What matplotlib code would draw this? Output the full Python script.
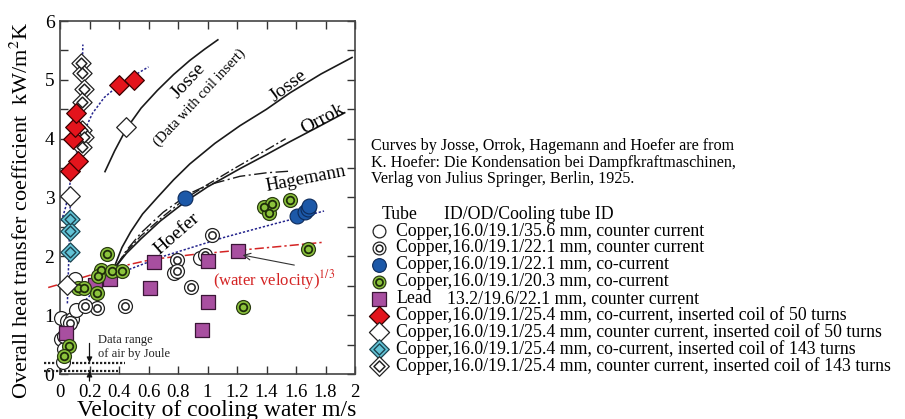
import numpy as np
import matplotlib
matplotlib.use("Agg")
import matplotlib.pyplot as plt

plt.rcParams['font.family'] = ['Liberation Serif', 'DejaVu Serif']
plt.rcParams['mathtext.fontset'] = 'stix'

# ---------------- data ----------------
# Copper 16.0/19.1/35.6 mm, counter current (open circle)
open_x = [0.01, 0.05, 0.08, 0.11, 0.01, 0.03, 0.02, 0.10, 0.77, 0.95]
open_y = [0.95, 0.90, 0.93, 1.08, 0.60, 0.42, 0.20, 1.62, 1.71, 1.98]
# Copper 16.0/19.1/22.1 mm, counter current (double circle)
dbl_x = [0.07, 0.03, 0.25, 0.44, 0.79, 0.79, 0.89, 0.98, 1.03, 0.17]
dbl_y = [0.87, 0.64, 1.12, 1.16, 1.93, 1.75, 1.48, 2.03, 2.36, 1.15]
# Copper 16.0/19.1/22.1 mm, co-current (blue)
blue_x = [0.85, 1.61, 1.66, 1.68, 1.69]
blue_y = [2.99, 2.69, 2.76, 2.80, 2.85]
# Copper 16.0/19.1/20.3 mm, co-current (green)
green_x = [0.32, 0.28, 0.35, 0.42, 0.26, 0.25, 0.12, 0.16, 0.06, 0.03,
           1.24, 1.68, 1.38, 1.42, 1.44, 1.56]
green_y = [2.04, 1.77, 1.75, 1.75, 1.66, 1.38, 1.47, 1.47, 0.47, 0.31,
           1.14, 2.12, 2.84, 2.74, 2.89, 2.95]
# Lead 13.2/19.6/22.1 mm, counter current
lead_x = [0.04, 0.24, 0.34, 0.61, 0.64, 0.96, 1.00, 1.00, 1.21]
lead_y = [0.70, 1.51, 1.61, 1.46, 1.90, 0.74, 1.23, 1.92, 2.09]
# coil of 50 turns, co-current (red diamond)
red_x = [0.07, 0.12, 0.09, 0.10, 0.11, 0.40, 0.50]
red_y = [3.45, 3.62, 4.00, 4.20, 4.43, 4.92, 5.00]
# coil of 50 turns, counter current (white diamond)
wd_x = [0.05, 0.07, 0.45]
wd_y = [1.52, 3.03, 4.20]
# coil of 143 turns, co-current (cyan diamond)
cy_x = [0.07, 0.07, 0.07]
cy_y = [2.63, 2.43, 2.07]
# coil of 143 turns, counter current (double diamond)
dd_x = [0.14, 0.15, 0.16, 0.15, 0.15, 0.16, 0.15]
dd_y = [5.28, 5.11, 4.85, 4.62, 4.14, 4.02, 3.85]

# literature curves
josse_coil_x = [0.305, 0.37, 0.45, 0.55, 0.66, 0.77, 0.88, 0.98, 1.07]
josse_coil_y = [3.44, 3.79, 4.17, 4.52, 4.82, 5.09, 5.33, 5.52, 5.68]
josse_x = [0.37, 0.42, 0.48, 0.56, 0.66, 0.77, 0.88, 1.05, 1.22, 1.40, 1.56, 1.77, 1.98]
josse_y = [1.83, 2.15, 2.42, 2.72, 3.00, 3.30, 3.57, 3.92, 4.22, 4.50, 4.78, 5.10, 5.38]
orrok_x = [0.38, 0.45, 0.55, 0.68, 0.85, 1.00, 1.22, 1.40, 1.56, 1.75, 1.93]
orrok_y = [1.83, 2.05, 2.30, 2.60, 2.93, 3.18, 3.49, 3.73, 3.95, 4.20, 4.44]
hoefer_x = [0.38, 0.45, 0.55, 0.70, 0.85, 1.00, 1.20, 1.38, 1.53]
hoefer_y = [1.83, 2.08, 2.35, 2.68, 2.98, 3.22, 3.52, 3.78, 4.00]
hagem_x = [0.38, 0.45, 0.55, 0.70, 0.88, 1.00, 1.22, 1.40, 1.57]
hagem_y = [1.83, 2.10, 2.40, 2.75, 3.07, 3.21, 3.36, 3.42, 3.45]

# blue dotted trend lines
fit_red_x = [0.01, 0.04, 0.07, 0.10, 0.15, 0.22, 0.30, 0.39, 0.50, 0.60]
fit_red_y = [2.60, 2.85, 3.27, 3.68, 4.05, 4.43, 4.70, 4.89, 5.07, 5.22]
fit_dd_x = [0.13, 0.14, 0.15, 0.155]
fit_dd_y = [3.75, 4.50, 5.10, 5.60]
fit_cy_x = [0.05, 0.06, 0.07]
fit_cy_y = [1.20, 2.00, 2.95]
fit_low_x = [0.08, 0.15, 0.25, 0.44, 0.70, 1.11, 1.45, 1.79]
fit_low_y = [1.00, 1.20, 1.45, 1.75, 2.00, 2.32, 2.55, 2.77]
# (water velocity)^(1/3)
wv_x = [-0.08, 0.10, 0.27, 0.45, 0.63, 0.90, 1.20, 1.50, 1.79]
wv_y = [1.47, 1.60, 1.73, 1.85, 1.95, 2.03, 2.10, 2.17, 2.24]

# air range by Joule
joule_hi = 0.19
joule_lo = 0.05

xticks = [0, 0.2, 0.4, 0.6, 0.8, 1.0, 1.2, 1.4, 1.6, 1.8, 2.0]
xtick_labels = ['0', '0.2', '0.4', '0.6', '0.8', '1', '1.2', '1.4', '1.6', '1.8', '2']
yticks = [0, 0.5, 1, 1.5, 2, 2.5, 3, 3.5, 4, 4.5, 5, 5.5, 6]
ytick_labels = ['0', '', '1', '', '2', '', '3', '', '4', '', '5', '', '6']

# ---------------- marker styles ----------------
C_BLUE = '#1c58a8'
C_GREEN = '#8cc43c'
C_PURPLE = '#a84fa0'
C_RED = '#e3141c'
C_CYAN = '#62c3d6'


def draw(ax, x, y, kind, scale=1.0, **kw):
    k = dict(zorder=5, clip_on=False, **kw)
    if kind == 'open':
        ax.scatter(x, y, s=100*scale, marker='o', facecolor='white', edgecolor='#222222', linewidth=0.9, **k)
    elif kind == 'dbl':
        ax.scatter(x, y, s=100*scale, marker='o', facecolor='white', edgecolor='#222222', linewidth=0.9, **k)
        ax.scatter(x, y, s=28*scale, marker='o', facecolor='white', edgecolor='#222222', linewidth=1.1, **k)
    elif kind == 'blue':
        ax.scatter(x, y, s=115*scale, marker='o', facecolor=C_BLUE, edgecolor='#0c2a5a', linewidth=0.8, **k)
    elif kind == 'green':
        ax.scatter(x, y, s=100*scale, marker='o', facecolor=C_GREEN, edgecolor='#2b3d12', linewidth=0.9, **k)
        ax.scatter(x, y, s=30*scale, marker='o', facecolor=C_GREEN, edgecolor='#1e2c0a', linewidth=1.3, **k)
    elif kind == 'lead':
        ax.scatter(x, y, s=105*scale, marker='s', facecolor=C_PURPLE, edgecolor='#3a1636', linewidth=0.9, **k)
    elif kind == 'red':
        ax.scatter(x, y, s=100*scale, marker='D', facecolor=C_RED, edgecolor='#3a0000', linewidth=0.9, **k)
    elif kind == 'wd':
        ax.scatter(x, y, s=100*scale, marker='D', facecolor='white', edgecolor='#222222', linewidth=0.9, **k)
    elif kind == 'cyan':
        ax.scatter(x, y, s=95*scale, marker='D', facecolor=C_CYAN, edgecolor='#1d4450', linewidth=0.9, **k)
        ax.scatter(x, y, s=30*scale, marker='D', facecolor=C_CYAN, edgecolor='#1d4450', linewidth=1.0, **k)
    elif kind == 'dd':
        ax.scatter(x, y, s=95*scale, marker='D', facecolor='white', edgecolor='#222222', linewidth=0.9, **k)
        ax.scatter(x, y, s=30*scale, marker='D', facecolor='white', edgecolor='#222222', linewidth=1.1, **k)


# ---------------- figure ----------------
fig = plt.figure(figsize=(9.05, 4.19), dpi=100)
ax = fig.add_axes([60/905, 1 - 374/419, 295/905, 353/419])
ax.set_xlim(0, 2)
ax.set_ylim(0, 6)

# curves
ax.plot(josse_coil_x, josse_coil_y, color='#1a1a1a', lw=1.2, zorder=3)
ax.plot(josse_x, josse_y, color='#1a1a1a', lw=1.2, zorder=3)
ax.plot(orrok_x, orrok_y, color='#1a1a1a', lw=1.2, zorder=3)
ax.plot(hoefer_x, hoefer_y, color='#1a1a1a', lw=1.0, ls=(0, (7, 2, 1.5, 2)), zorder=3)
ax.plot(hagem_x, hagem_y, color='#1a1a1a', lw=1.0, ls=(0, (9, 2.5, 1.5, 2.5)), zorder=3)

dot = (0, (1.5, 1.2))
for fx, fy in [(fit_red_x, fit_red_y), (fit_dd_x, fit_dd_y), (fit_cy_x, fit_cy_y), (fit_low_x, fit_low_y)]:
    ax.plot(fx, fy, color='#26268e', lw=1.1, ls=dot, zorder=4)
ax.plot(wv_x, wv_y, color='#d42424', lw=1.1, ls=(0, (6, 2, 1.5, 2)), zorder=4, clip_on=False)

# data points
draw(ax, open_x, open_y, 'open')
draw(ax, dbl_x, dbl_y, 'dbl')
draw(ax, lead_x, lead_y, 'lead')
draw(ax, green_x, green_y, 'green')
draw(ax, blue_x, blue_y, 'blue')
draw(ax, wd_x, wd_y, 'wd')
draw(ax, cy_x, cy_y, 'cyan')
draw(ax, dd_x, dd_y, 'dd')
draw(ax, red_x, red_y, 'red')

# curve labels
ax.text(0.87, 4.99, 'Josse', rotation=47, fontsize=14, ha='center', va='center', zorder=6)
ax.text(0.95, 4.70, '(Data with coil insert)', rotation=47, fontsize=10.5, ha='center', va='center', zorder=6)
ax.text(1.55, 4.89, 'Josse', rotation=37, fontsize=14, ha='center', va='center', zorder=6)
ax.text(1.78, 4.34, 'Orrok', rotation=28, fontsize=14, ha='center', va='center', zorder=6)
ax.text(1.67, 3.32, 'Hagemann', rotation=11, fontsize=13.5, ha='center', va='center', zorder=6)
ax.text(0.79, 2.39, 'Hoefer', rotation=41, fontsize=14, ha='center', va='center', zorder=6)
ax.annotate('(water velocity)$^{1/3}$', xy=(1.22, 2.03), xytext=(1.04, 1.6),
            color='#d42424', fontsize=12, ha='left', va='center', zorder=6,
            arrowprops=dict(arrowstyle='->', color='#333333', lw=0.8,
                            shrinkA=0, shrinkB=2, relpos=(0.78, 1.0)))

# Joule air range
ax.plot([-0.11, 0.44], [joule_hi, joule_hi], color='#222222', lw=1.6, ls=(0, (1, 0.8)), clip_on=False, zorder=4)
ax.plot([-0.11, 0.39], [joule_lo, joule_lo], color='#222222', lw=1.6, ls=(0, (1, 0.8)), clip_on=False, zorder=4)
ax.annotate('', xy=(0.2, joule_hi), xytext=(0.2, 0.52),
            arrowprops=dict(arrowstyle='-|>', color='#111111', lw=0.9, mutation_scale=8, shrinkA=0, shrinkB=0))
ax.annotate('', xy=(0.2, joule_lo), xytext=(0.2, -0.12), annotation_clip=False,
            arrowprops=dict(arrowstyle='-|>', color='#111111', lw=0.9, mutation_scale=8, shrinkA=0, shrinkB=0))
ax.text(0.26, 0.57, 'Data range', fontsize=9, ha='left', va='center', color='#222222')
ax.text(0.26, 0.34, 'of air by Joule', fontsize=9, ha='left', va='center', color='#222222')

# axes styling
ax.set_xticks(xticks)
ax.set_xticklabels(xtick_labels)
ax.set_yticks(yticks)
ax.set_yticklabels(ytick_labels)
ax.tick_params(direction='in', top=True, right=True, length=6, width=1.0, color='#333333')
ax.tick_params(axis='x', labelsize=13.5, pad=7)
ax.tick_params(axis='y', labelsize=14, pad=4)
for sp in ax.spines.values():
    sp.set_color('#444444')
    sp.set_linewidth(1.2)

fig.text(22/905, 1 - 210/419, 'Overall heat transfer coefficient  kW/m$^2$K',
         rotation=90, fontsize=16, ha='center', va='center')
fig.text(217/905, 1 - 410/419, 'Velocity of cooling water m/s', fontsize=17, ha='center', va='center')

# ---------------- note and legend (pixel coordinates) ----------------
lax = fig.add_axes([0, 0, 1, 1], zorder=-1)
lax.set_xlim(0, 905)
lax.set_ylim(419, 0)
lax.axis('off')

note = ['Curves by Josse, Orrok, Hagemann and Hoefer are from',
        'K. Hoefer: Die Kondensation bei Dampfkraftmaschinen,',
        'Verlag von Julius Springer, Berlin, 1925.']
for i, line in enumerate(note):
    lax.text(371, 146 + i*16.5, line, fontsize=11.6, ha='left', va='center')

lax.text(382, 214, 'Tube', fontsize=12.8, ha='left', va='center')
lax.text(444, 214, 'ID/OD/Cooling tube ID', fontsize=12.8, ha='left', va='center')

legend_kinds = ['open', 'dbl', 'blue', 'green', 'lead', 'red', 'wd', 'cyan', 'dd']
legend_labels = ['Copper,16.0/19.1/35.6 mm, counter current',
                 'Copper,16.0/19.1/22.1 mm, counter current',
                 'Copper,16.0/19.1/22.1 mm, co-current',
                 'Copper,16.0/19.1/20.3 mm, co-current',
                 None,
                 'Copper,16.0/19.1/25.4 mm, co-current, inserted coil of 50 turns',
                 'Copper,16.0/19.1/25.4 mm, counter current, inserted coil of 50 turns',
                 'Copper,16.0/19.1/25.4 mm, co-current, inserted coil of 143 turns',
                 'Copper,16.0/19.1/25.4 mm, counter current, inserted coil of 143 turns']
for i, (kind, lab) in enumerate(zip(legend_kinds, legend_labels)):
    yy = 231 + i*16.9
    draw(lax, [379], [yy], kind, scale=0.85 if kind not in ('red', 'wd', 'cyan', 'dd') else 1.05)
    if lab is None:
        lax.text(396, yy, 'Lead', fontsize=12.8, ha='left', va='center')
        lax.text(447, yy, '13.2/19.6/22.1 mm, counter current', fontsize=12.8, ha='left', va='center')
    else:
        lax.text(396, yy, lab, fontsize=12.8, ha='left', va='center')

fig.savefig('out.png', dpi=100)
